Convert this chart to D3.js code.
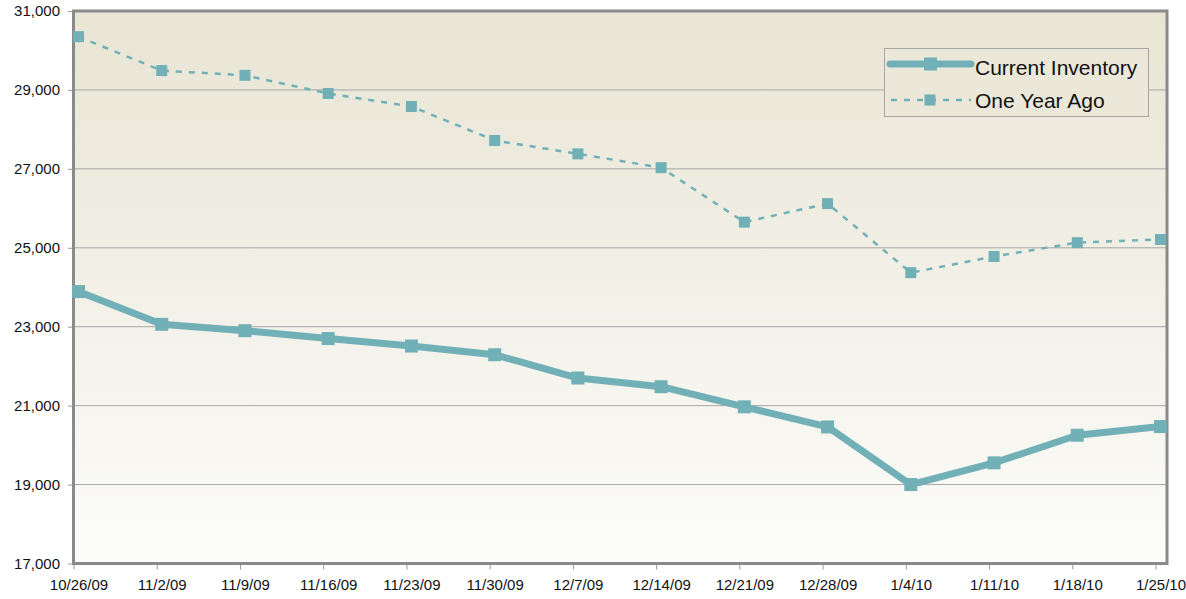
<!DOCTYPE html>
<html>
<head>
<meta charset="utf-8">
<style>
body { margin: 0; background: #fff; }
text { font-family: "Liberation Sans", Arial, sans-serif; fill: #111; }
</style>
</head>
<body>
<svg width="1186" height="599"></svg>
<script src="https://d3js.org/d3.v7.min.js"></script>
<script>
var weeks = ["10/26/09", "11/2/09", "11/9/09", "11/16/09", "11/23/09", "11/30/09", "12/7/09",
             "12/14/09", "12/21/09", "12/28/09", "1/4/10", "1/11/10", "1/18/10", "1/25/10"];
var current = [23890, 23060, 22900, 22700, 22510, 22290, 21700, 21480, 20970, 20460, 19000, 19550, 20250, 20470];
var yearAgo = [30350, 29490, 29370, 28910, 28580, 27720, 27380, 27030, 25650, 26120, 24370, 24780, 25130, 25210];
var yTicks = [17000, 19000, 21000, 23000, 25000, 27000, 29000, 31000];

var svg = d3.select("svg");
var plotL = 74, plotR = 1167, plotT = 11, plotB = 563.5;
var col = "#72b0b8";

var x = d3.scalePoint().domain(weeks).range([78.5, 1160.5]);
var y = d3.scaleLinear().domain([17000, 31000]).range([plotB, plotT]);

var defs = svg.append("defs");
var grad = defs.append("linearGradient")
    .attr("id", "bg").attr("x1", 0).attr("y1", 0).attr("x2", 0).attr("y2", 1);
grad.append("stop").attr("offset", "0%").attr("stop-color", "#e8e5d4");
grad.append("stop").attr("offset", "100%").attr("stop-color", "#fcfcfa");

svg.append("rect")
    .attr("x", plotL).attr("y", plotT)
    .attr("width", plotR - plotL).attr("height", plotB - plotT)
    .attr("fill", "url(#bg)");

// gridlines
svg.append("g").selectAll("line")
  .data(yTicks.slice(1, -1))
  .enter().append("line")
    .attr("x1", plotL).attr("x2", plotR)
    .attr("y1", function(d) { return y(d); })
    .attr("y2", function(d) { return y(d); })
    .attr("stroke", "#a6a6a6").attr("stroke-width", 1);

// y axis
var yAxis = svg.append("g")
    .attr("transform", "translate(" + plotL + ",0)")
    .call(d3.axisLeft(y).tickValues(yTicks).tickSize(6).tickFormat(d3.format(",")));
yAxis.select(".domain").remove();
yAxis.selectAll(".tick line").attr("stroke", "#999");
yAxis.selectAll("text")
    .attr("font-size", "15px")
    .attr("x", -14)
    .style("font-family", "'Liberation Sans', Arial, sans-serif")
    .attr("fill", "#111");

// x axis
var xAxis = svg.append("g")
    .attr("transform", "translate(0," + plotB + ")")
    .call(d3.axisBottom(x).tickSize(6));
xAxis.select(".domain").remove();
xAxis.selectAll(".tick line").attr("stroke", "#999").attr("transform", "translate(-5,0)");
xAxis.selectAll("text")
    .attr("font-size", "15px")
    .attr("y", 16)
    .style("font-family", "'Liberation Sans', Arial, sans-serif")
    .attr("fill", "#111");

// plot border
svg.append("rect")
    .attr("x", plotL - 0.5).attr("y", plotT)
    .attr("width", plotR - plotL + 0.5).attr("height", plotB - plotT)
    .attr("fill", "none").attr("stroke", "#8a8a8a").attr("stroke-width", 3);

var line = function(vals) {
  return d3.line()
      .x(function(d, i) { return x(weeks[i]); })
      .y(function(d) { return y(d); })(vals);
};

// one year ago
svg.append("path")
    .attr("d", line(yearAgo))
    .attr("fill", "none").attr("stroke", col)
    .attr("stroke-width", 2.5).attr("stroke-dasharray", "6,7");
svg.append("g").selectAll("rect")
  .data(yearAgo)
  .enter().append("rect")
    .attr("x", function(d, i) { return x(weeks[i]) - 5.5; })
    .attr("y", function(d) { return y(d) - 5.5; })
    .attr("width", 11).attr("height", 11)
    .attr("fill", col);

// current inventory
svg.append("path")
    .attr("d", line(current))
    .attr("fill", "none").attr("stroke", col)
    .attr("stroke-width", 7).attr("stroke-linejoin", "round");
svg.append("g").selectAll("rect")
  .data(current)
  .enter().append("rect")
    .attr("x", function(d, i) { return x(weeks[i]) - 6.5; })
    .attr("y", function(d) { return y(d) - 6.5; })
    .attr("width", 13).attr("height", 13)
    .attr("fill", col);

// legend
var lg = svg.append("g");
lg.append("rect")
    .attr("x", 884.5).attr("y", 48.5).attr("width", 264).attr("height", 68)
    .attr("fill", "#ebe8da").attr("stroke", "#a6a6a6").attr("stroke-width", 1);
lg.append("line")
    .attr("x1", 890).attr("x2", 971).attr("y1", 64).attr("y2", 64)
    .attr("stroke", col).attr("stroke-width", 7).attr("stroke-linecap", "round");
lg.append("rect")
    .attr("x", 924).attr("y", 57.5).attr("width", 13).attr("height", 13).attr("fill", col);
lg.append("line")
    .attr("x1", 891).attr("x2", 971).attr("y1", 100).attr("y2", 100)
    .attr("stroke", col).attr("stroke-width", 2.5).attr("stroke-dasharray", "6,7");
lg.append("rect")
    .attr("x", 924.5).attr("y", 94.5).attr("width", 11).attr("height", 11).attr("fill", col);
lg.append("text").attr("x", 975).attr("y", 74.5).attr("font-size", "21px").text("Current Inventory");
lg.append("text").attr("x", 975).attr("y", 107.5).attr("font-size", "21px").text("One Year Ago");
</script>
</body>
</html>
